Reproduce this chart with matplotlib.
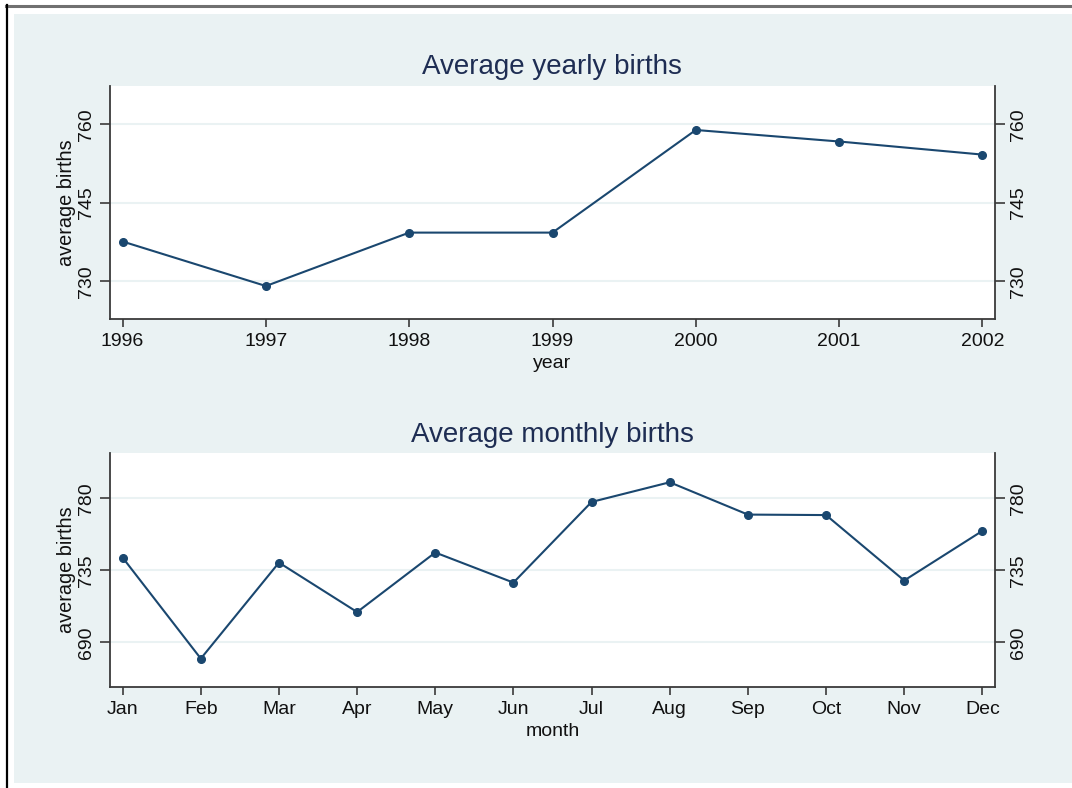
import matplotlib
matplotlib.use("Agg")
import matplotlib.pyplot as plt
from matplotlib.patches import Rectangle
from matplotlib.lines import Line2D

# ---- data ----
years = [1996, 1997, 1998, 1999, 2000, 2001, 2002]
yearly_births = [737.6, 729.1, 739.3, 739.3, 758.9, 756.7, 754.2]

months = ["Jan", "Feb", "Mar", "Apr", "May", "Jun",
          "Jul", "Aug", "Sep", "Oct", "Nov", "Dec"]
monthly_births = [742.9, 679.8, 739.8, 708.9, 746.1, 727.3,
                  777.7, 790.0, 769.8, 769.5, 728.6, 759.6]

yearly_ticks = [730, 745, 760]
monthly_ticks = [690, 735, 780]

# ---- styles ----
W, H = 1072, 788
BG = "#eaf2f3"
LINE = "#1a476f"
TITLE = "#1e2d53"
AX = "#3a3a3a"
FONT = "Liberation Sans"
TS = 14  # tick/axis label size

plt.rcParams["font.family"] = [FONT, "DejaVu Sans"]

fig = plt.figure(figsize=(W / 100, H / 100), dpi=100)
fig.patch.set_facecolor("white")

# outer background and frame lines
fig.add_artist(Rectangle((14 / W, 1 - 783 / H), (W - 14) / W, (783 - 14) / H,
                         transform=fig.transFigure, facecolor=BG,
                         edgecolor="none", zorder=0))
fig.add_artist(Line2D([6 / W, 1], [1 - 5.5 / H, 1 - 5.5 / H],
                      transform=fig.transFigure, color="#707070", lw=2.2))
fig.add_artist(Line2D([6.5 / W, 6.5 / W], [0, 1 - 5 / H],
                      transform=fig.transFigure, color="black", lw=1.6))


def make_ax(left, top, right, bottom):
    return fig.add_axes([left / W, 1 - bottom / H, (right - left) / W, (bottom - top) / H])


def style(ax, yticks, ylim):
    ax.set_facecolor("white")
    ax.set_ylim(*ylim)
    ax.set_yticks(yticks)
    ax.set_yticklabels([str(t) for t in yticks], rotation=90, va="center")
    ax.yaxis.set_ticks_position("both")
    ax.tick_params(axis="y", which="both", labelleft=True, labelright=True,
                   direction="out", length=7, width=1.2, color=AX, pad=4,
                   labelsize=TS, labelcolor="#111111")
    ax.tick_params(axis="x", direction="out", length=6, width=1.2, color=AX,
                   pad=4, labelsize=TS, labelcolor="#111111")
    for t in ax.get_yticklabels(which="both"):
        t.set_va("center")
    ax.spines["top"].set_visible(False)
    for s in ("left", "right", "bottom"):
        ax.spines[s].set_color(AX)
        ax.spines[s].set_linewidth(1.3)
    ax.grid(axis="y", color=BG, lw=1.5)
    ax.set_axisbelow(True)
    ax.set_ylabel("average births", fontsize=14.3, color="#111111", labelpad=1)


# ---- top panel ----
ax1 = make_ax(110, 86, 995, 319)
ax1.plot(years, yearly_births, color=LINE, lw=1.5, marker="o", ms=5.5,
         markerfacecolor=LINE, markeredgecolor=LINE)
ax1.set_xlim(years[0] - 0.088, years[-1] + 0.088)
ax1.set_xticks(years)
ax1.set_xticklabels([str(y) for y in years])
style(ax1, yearly_ticks, (722.8, 767.3))
ax1.set_xlabel("year", fontsize=TS, color="#111111", labelpad=4)
fig.text(552 / W, 1 - 67 / H, "Average yearly births", ha="center", va="center",
         fontsize=20, color=TITLE)

# ---- bottom panel ----
ax2 = make_ax(110, 453.3, 995, 686.7)
xm = list(range(len(months)))
ax2.plot(xm, monthly_births, color=LINE, lw=1.5, marker="o", ms=5.5,
         markerfacecolor=LINE, markeredgecolor=LINE)
ax2.set_xlim(-0.162, len(months) - 1 + 0.162)
ax2.set_xticks(xm)
ax2.set_xticklabels(months)
style(ax2, monthly_ticks, (662.25, 808.1))
ax2.set_xlabel("month", fontsize=TS, color="#111111", labelpad=4)
fig.text(552 / W, 1 - 435 / H, "Average monthly births", ha="center", va="center",
         fontsize=20, color=TITLE)

fig.savefig("out.png", dpi=100, facecolor=fig.get_facecolor())
